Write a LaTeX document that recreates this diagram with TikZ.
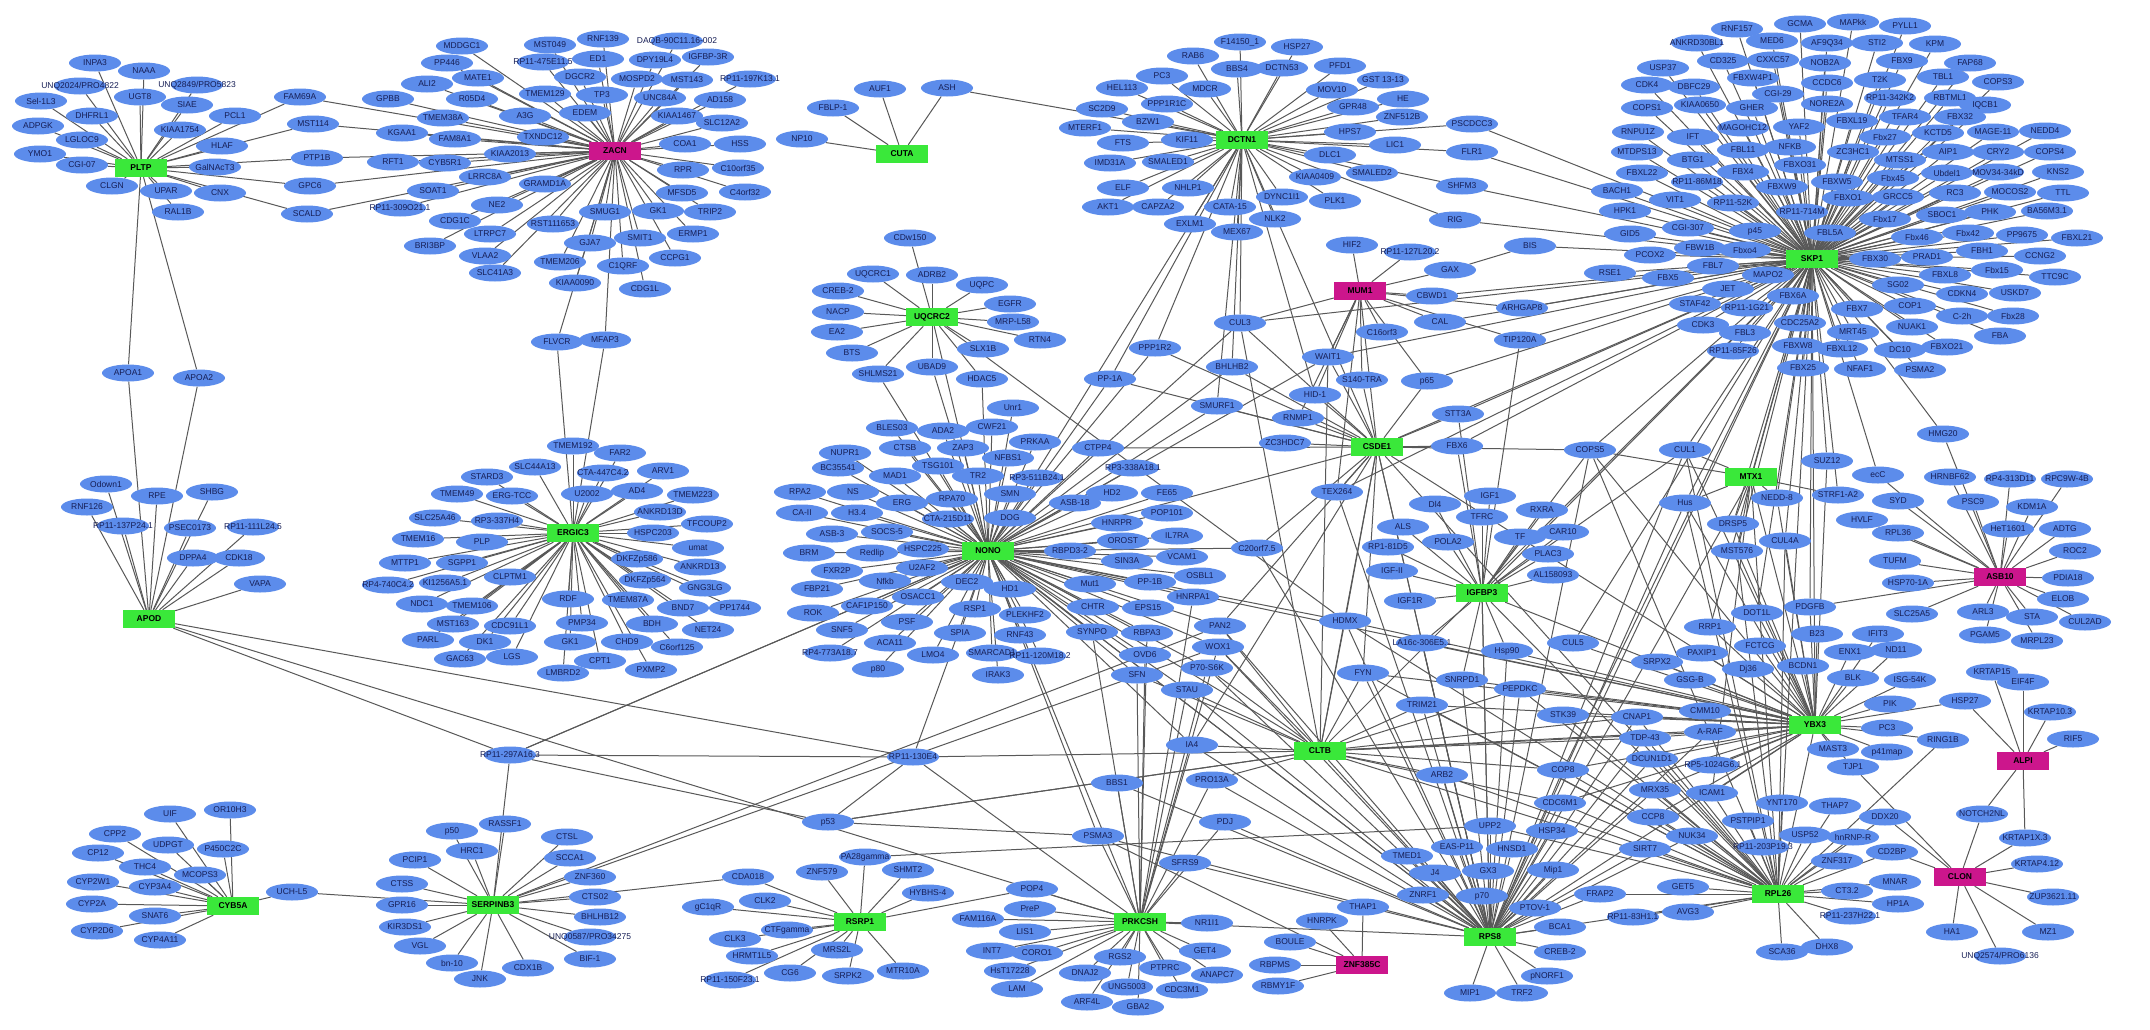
\documentclass[tikz,border=0pt]{standalone}
\usepackage{fontspec}
\setmainfont{Liberation Sans}
\usetikzlibrary{shapes.geometric}
\definecolor{nodeblue}{RGB}{92,140,235}
\definecolor{txtblue}{RGB}{22,30,85}
\definecolor{hubgreen}{RGB}{58,232,58}
\definecolor{hubmag}{RGB}{204,22,140}
\definecolor{edgegray}{RGB}{88,88,88}
\pgfdeclarelayer{bg}
\pgfsetlayers{bg,main}
\tikzset{
 bn/.style={ellipse, fill=nodeblue, minimum width=52pt, minimum height=17pt, inner sep=0pt, text=txtblue, font=\fontsize{8.5}{9}\selectfont},
 hubg/.style={rectangle, fill=hubgreen, minimum width=52pt, minimum height=18pt, inner sep=0pt, font=\bfseries\fontsize{8.5}{9}\selectfont},
 hubm/.style={hubg, fill=hubmag},
 ed/.style={draw=edgegray, line width=1pt}
}
\newcommand\starnodes[2]{\foreach \lab/\px/\py [count=\nn] in #2 {\node[bn] (#1\nn) at (\px,\py) {\makebox[0pt]{\lab}};}}
\newcommand\staredges[3]{\foreach \lab/\px/\py [count=\nn] in #3 {\draw[ed] (#1) -- (#2\nn);}}
\newcommand\mynodes[1]{\foreach \nid/\lab/\px/\py in {#1}{\node[bn] (\nid) at (\px,\py) {\makebox[0pt]{\lab}};}}
\newcommand\mylinks[2]{\foreach \nb in {#2}{\draw[ed] (#1) -- (\nb);}}
% satellite lists
\def\Lpl{INPA3/95/63, NAAA/144/71, {UNQ2024/PRO4822}/80/86, {UNQ2849/PRO5823}/197/85, Sel-1L3/41/101, UGT8/140/97, SIAE/187/105, DHFRL1/92/116, PCL1/235/116, ADPGK/38/126, KIAA1754/180/130, LGLOC9/82/140, HLAF/222/146, YMO1/40/154, CGI-07/82/165, GalNAcT3/215/167, CLGN/112/186, UPAR/166/191, CNX/220/193, RAL1B/178/212}
\def\Lza{MDDGC1/462/46, PP446/447/63, {RP11-475E11.5}/543/62, MATE1/478/78, ALI2/427/84, R05D4/472/99, GPBB/388/99, TMEM38A/443/118, KGAA1/402/133, FAM8A1/455/139, RFT1/393/162, CYB5R1/445/163, KIAA2013/510/154, LRRC8A/485/177, SOAT1/433/191, {RP11-309O21.1}/400/208, NE2/497/205, CDG1C/455/221, LTRPC7/490/234, BRI3BP/430/246, VLAA2/485/256, SLC41A3/495/273, MST049/550/45, RNF139/603/39, {DAQB-90C11.16-002}/677/41, ED1/598/59, DPY19L4/655/60, IGFBP-3R/708/57, DGCR2/580/77, MOSPD2/637/79, MST143/687/80, {RP11-197K13.1}/750/79, TMEM129/545/94, TP3/602/95, UNC84A/660/98, AD158/720/100, A3G/525/116, EDEM/585/113, KIAA1467/677/116, SLC12A2/722/123, TXNDC12/543/137, COA1/685/144, HSS/740/144, RPR/683/170, C10orf35/738/168, GRAMD1A/545/184, MFSD5/682/193, C4orf32/745/192, SMUG1/605/212, GK1/658/211, TRIP2/710/212, RST111653/553/224, ERMP1/693/234, GJA7/590/243, SMIT1/640/238, TMEM206/560/262, CCPG1/675/258, C1QRF/623/266, KIAA0090/575/283, CDG1L/645/289}
\def\Lcu{AUF1/880/89, FBLP-1/833/108, NP10/802/139}
\def\Ldc{F14150\_1/1240/42, HSP27/1297/47, RAB6/1193/56, BBS4/1237/69, DCTN53/1282/68, PFD1/1340/66, PC3/1162/76, {GST 13-13}/1383/80, MDCR/1205/89, MOV10/1332/90, HEL113/1122/88, HE/1403/99, PPP1R1C/1167/104, GPR48/1353/107, SC2D9/1102/109, ZNF512B/1402/117, BZW1/1148/122, HPS7/1350/132, MTERF1/1085/128, KIF11/1187/140, FTS/1123/143, LIC1/1395/145, DLC1/1330/155, IMD31A/1110/163, SMALED1/1168/162, SMALED2/1372/173, KIAA0409/1315/177, ELF/1123/188, NHLP1/1188/188, DYNC1I1/1282/197, PLK1/1335/201, AKT1/1108/207, CAPZA2/1158/207, CATA-15/1230/207, NLK2/1275/219, EXLM1/1190/224, MEX67/1237/232}
\def\Lmu{HIF2/1352/245, {RP11-127L20.2}/1410/252}
\def\Lsk{RNF157/1737/29, GCMA/1800/24, MAPkk/1853/22, PYLL1/1905/26, ANKRD30BL1/1697/43, MED6/1772/41, AF9Q34/1827/43, STI2/1877/43, KPM/1935/44, CD325/1723/61, CXXC57/1773/60, NOB2A/1825/63, FBX9/1902/61, FAP68/1970/63, USP37/1663/68, FBXW4P1/1753/78, CCDC6/1827/83, T2K/1880/80, TBL1/1943/77, COPS3/1998/82, CDK4/1647/85, DBFC29/1694/87, CGI-29/1778/94, {RP11-342K2}/1890/98, RBTML1/1950/98, IQCB1/1985/105, COPS1/1647/108, KIAA0650/1700/105, GHER/1752/108, NORE2A/1827/104, TFAR4/1905/117, FBX32/1960/117, RNPU1Z/1638/132, MAGOHC12/1743/128, YAF2/1799/127, FBXL19/1852/121, MAGE-11/1993/132, NEDD4/2045/131, IFT/1693/137, Fbx27/1885/137, KCTD5/1938/133, NFKB/1790/147, FBL11/1743/150, ZC3HC1/1853/152, AIP1/1948/152, CRY2/1998/152, COPS4/2050/152, MTDPS13/1637/152, BTG1/1693/160, MTSS1/1900/160, FBXO31/1800/165, FBXL22/1642/173, {RP11-86M18}/1697/182, FBX4/1743/172, FBXW5/1837/182, Fbx45/1893/178, Ubdel1/1947/173, MOV34-34kD/1998/172, KNS2/2058/172, FBXW9/1782/187, BACH1/1617/191, VIT1/1675/200, FBXO1/1848/198, GRCC5/1898/197, RC3/1955/193, MOCOS2/2010/192, TTL/2063/193, {RP11-52K}/1733/203, {RP11-714M}/1802/212, HPK1/1625/211, Fbx17/1885/219, SBOC1/1942/215, PHK/1990/212, BA56M3.1/2047/211, CGI-307/1688/228, p45/1755/231, FBL5A/1830/233, Fbx46/1917/237, Fbx42/1968/233, PP9675/2022/235, FBXL21/2077/238, GID5/1630/234, PCOX2/1650/255, FBW1B/1700/248, Fbxo4/1745/250, FBX30/1875/259, PRAD1/1927/257, FBH1/1982/251, CCNG2/2040/256, RSE1/1610/273, FBL7/1713/266, FBX5/1668/278, MAPO2/1768/275, FBXL8/1945/275, Fbx15/1997/270, TTC9C/2055/277, JET/1728/289, SG02/1898/285, CDKN4/1962/294, USKD7/2015/293, STAF42/1695/304, FBX6A/1793/296, {RP11-1G21}/1747/308, FBX7/1857/309, COP1/1910/306, C-2h/1962/316, Fbx28/2013/316, CDK3/1703/325, CDC25A2/1800/323, FBL3/1745/333, MRT45/1853/332, NUAK1/1912/327, FBA/2000/336, {RP11-85F26}/1733/351, FBXW8/1798/346, FBXL12/1842/349, DC10/1900/350, FBXO21/1947/347, FBX25/1803/368, NFAF1/1860/369, PSMA2/1920/370}
\def\Luq{CDw150/910/238, UQCRC1/873/274, ADRB2/932/275, UQPC/982/285, CREB-2/838/291, EGFR/1010/304, NACP/838/312, MRP-L58/1013/322, EA2/837/332, RTN4/1040/340, BTS/852/353, SLX1B/983/349}
\def\Ler{FAR2/620/453, SLC44A13/535/467, {CTA-447C4.2}/603/473, ARV1/663/471, U2002/587/494, AD4/637/491, TMEM223/693/495, ANKRD13D/660/512, TFCOUP2/707/524, HSPC203/653/533, umat/698/548, DKFZp586/637/559, ANKRD13/700/567, DKFZp564/645/580, GNG3LG/705/588, RDF/568/599, TMEM87A/628/600, BND7/683/608, PP1744/735/608, PMP34/582/623, BDH/652/624, NET24/708/630, GK1/570/642, CHD9/627/642, C6orf125/677/647, CPT1/600/661, LMBRD2/563/673, PXMP2/651/670, STARD3/487/477, ERG-TCC/512/496, TMEM49/457/494, SLC25A46/435/518, {RP3-337H4}/497/521, TMEM16/418/539, PLP/482/542, MTTP1/405/563, SGPP1/462/563, CLPTM1/510/577, {RP4-740C4.2}/388/585, KI1256A5.1/445/583, NDC1/422/604, TMEM106/472/606, MST163/453/624, CDC91L1/510/626, PARL/428/640, DK1/485/642, GAC63/460/659, LGS/512/657}
\def\Lap{Odown1/106/484, RNF126/87/507, RPE/157/496, SHBG/212/492, {RP11-137P24.1}/123/526, PSEC0173/190/528, {RP11-111L24.5}/253/527, DPPA4/193/558, CDK18/239/558, VAPA/260/584}
\def\Lno{Unr1/1013/408, BLES03/892/428, ADA2/943/431, CWF21/992/427, PRKAA/1035/442, NUPR1/845/453, CTSB/905/448, ZAP3/963/448, NFBS1/1008/458, BC35541/838/468, TSG101/938/466, MAD1/895/476, TR2/978/476, {RP3-511B24.1}/1037/478, RPA2/800/492, NS/853/492, RPA70/952/499, ERG/902/503, SMN/1010/494, CA-II/802/513, H3.4/857/513, {CTA-215D11}/948/519, DOG/1010/518, ASB-3/832/534, SOCS-5/887/532, BRM/809/553, Redlip/872/553, HSPC225/923/549, FXR2P/837/571, U2AF2/922/568, FBP21/817/589, Nfkb/885/581, DEC2/967/582, HD1/1010/589, OSACC1/918/597, ROK/813/613, CAF1P150/867/606, RSP1/975/609, PLEKHF2/1025/615, SNF5/842/630, PSF/907/622, SPIA/960/633, RNF43/1020/635, {RP4-773A18.7}/830/653, ACA11/890/643, LMO4/933/655, SMARCAD1/992/653, p80/878/669, IRAK3/998/675, {RP11-120M18.2}/1040/656}
\def\Lpk{PreP/1030/909, FAM116A/978/919, LIS1/1025/932, INT7/992/951, CORO1/1037/953, HsT17228/1010/971, LAM/1017/989, NR1I1/1207/923, GET4/1205/951, RGS2/1120/957, DNAJ2/1085/973, PTPRC/1165/968, ANAPC7/1217/975, UNG5003/1127/987, CDC3M1/1182/990, ARF4L/1087/1002, GBA2/1138/1007}
\def\Lzn{THAP1/1363/907, HNRPK/1322/921, BOULE/1290/942, RBPMS/1275/965, RBMY1F/1278/986}
\def\Lrs{J4/1435/873, ZNRF1/1423/895, p70/1482/896, PTOV-1/1535/908, BCA1/1560/927, CREB-2/1560/952, pNORF1/1547/976, MIP1/1470/993, TRF2/1522/993, GX3/1488/871, Mip1/1553/870, TMED1/1407/856, {EAS-P11}/1457/847, HNSD1/1512/849, HSP34/1552/831}
\def\Lrl{GET5/1683/887, AVG3/1688/912, {RP11-83H1.1}/1633/917, CT3.2/1847/891, MNAR/1895/882, HP1A/1898/904, {RP11-237H22.1}/1850/916, SCA36/1782/952, DHX8/1827/947, ZNF317/1837/861, hnRNP-R/1853/837, USP52/1805/835, {RP11-203P19.3}/1763/847, PSTPIP1/1748/821, YNT170/1782/803, THAP7/1835/806}
\def\Lyb{PIK/1890/704, PC3/1887/728, MAST3/1833/749, p41map/1887/752, {RP5-1024G6.1}/1713/765, B23/1817/634, ENX1/1850/652, IFIT3/1878/634, ND11/1896/650, BLK/1853/678, ISG-54K/1910/680, FCTCG/1760/646, PAXIP1/1702/653, SRPX2/1657/662, Dj36/1748/669, BCDN1/1803/666, GSG-B/1690/680}
\def\Lal{KRTAP10.3/2050/712, RIF5/2073/739, KRTAP15/1992/672, EIF4F/2023/682}
\def\Lcl{KRTAP4.12/2037/864, ZUP3621.11/2053/897, HA1/1952/932, MZ1/2048/932, {UNQ2574/PRO6136}/2000/956}
\def\Las{HRNBF62/1950/477, {RP4-313D11}/2010/479, {RPC9W-4B}/2067/479, SYD/1898/501, PSC9/1973/502, KDM1A/2032/507, HVLF/1862/520, RPL36/1898/533, HeT1601/2008/529, ADTG/2065/529, TUFM/1895/561, ROC2/2075/551, HSP70-1A/1908/583, PDIA18/2068/578, ELOB/2063/599, SLC25A5/1912/614, ARL3/1983/612, STA/2032/617, CUL2AD/2085/622, PGAM5/1985/635, MRPL23/2037/641}
\def\Lig{IGF1/1490/496, Dl4/1435/504, TFRC/1482/517, RXRA/1542/510, TF/1520/537, CAR10/1563/532, ALS/1403/527, POLA2/1448/542, {RP1-81D5}/1388/547, PLAC3/1548/554, IGF-II/1392/571, AL158093/1553/575}
\def\Lrp{ZNF579/822/872, SHMT2/908/870, HYBHS-4/928/893, CLK2/765/901, gC1qR/708/907, CTFgamma/787/930, CLK3/735/939, MRS2L/837/950, HRMT1L5/752/956, CG6/790/973, SRPK2/848/976, MTR10A/903/971, {RP11-150F23.1}/730/980}
\def\Lse{p50/452/831, RASSF1/505/824, HRC1/472/851, PCIP1/415/860, CTSS/402/884, GPR16/402/905, KIR3DS1/405/927, VGL/420/946, bn-10/452/963, JNK/480/979, CDX1B/528/968, CTSL/567/837, SCCA1/570/858, ZNF360/590/877, CTS02/595/897, BHLHB12/600/917, {UNQ0587/PRO34275}/590/937, BIF-1/590/959}
\def\Lcy{UIF/170/814, OR10H3/230/810, CPP2/115/834, UDPGT/168/845, P450C2C/223/849, CP12/98/853, THC4/145/867, MCOPS3/200/875, CYP2W1/93/882, CYP3A4/155/887, CYP2A/92/904, SNAT6/155/916, CYP2D6/97/931, CYP4A11/160/940}
\begin{document}
\begin{tikzpicture}[x=1pt,y=-1pt]
\begin{pgfonlayer}{bg}
\fill[white] (0,0) rectangle (2150,1029);
\end{pgfonlayer}
\useasboundingbox (0,0) rectangle (2150,1029);
% hubs
\node[hubg] (PLTP) at (141,168) {PLTP};
\node[hubm] (ZACN) at (615,151) {ZACN};
\node[hubg] (CUTA) at (902,154) {CUTA};
\node[hubg] (DCTN1) at (1242,140) {DCTN1};
\node[hubg] (SKP1) at (1812,259) {SKP1};
\node[hubg] (UQCRC2) at (932,317) {UQCRC2};
\node[hubm] (MUM1) at (1360,291) {MUM1};
\node[hubg] (ERGIC3) at (573,533) {ERGIC3};
\node[hubg] (NONO) at (988,551) {NONO};
\node[hubg] (CSDE1) at (1377,447) {CSDE1};
\node[hubg] (MTX1) at (1751,477) {MTX1};
\node[hubm] (ASB10) at (2000,577) {ASB10};
\node[hubg] (IGFBP3) at (1482,593) {IGFBP3};
\node[hubg] (APOD) at (149,619) {APOD};
\node[hubg] (YBX3) at (1815,725) {YBX3};
\node[hubm] (ALPI) at (2023,761) {ALPI};
\node[hubg] (CLTB) at (1320,751) {CLTB};
\node[hubm] (CLON) at (1960,877) {CLON};
\node[hubg] (RPL26) at (1778,894) {RPL26};
\node[hubg] (RPS8) at (1490,937) {RPS8};
\node[hubg] (PRKCSH) at (1140,922) {PRKCSH};
\node[hubm] (ZNF385C) at (1362,965) {ZNF385C};
\node[hubg] (RSRP1) at (860,922) {RSRP1};
\node[hubg] (SERPINB3) at (493,905) {SERPINB3};
\node[hubg] (CYB5A) at (233,906) {CYB5A};
% shared nodes
\mynodes{FAM69A/FAM69A/300/97, MST114/MST114/313/124, PTP1B/PTP1B/317/158, GPC6/GPC6/310/186, SCALD/SCALD/307/214, APOA1/APOA1/128/373, APOA2/APOA2/199/378, FLVCR/FLVCR/557/342, MFAP3/MFAP3/605/340, TMEM192/TMEM192/573/446, ASH/ASH/947/88, PSCD/PSCDCC3/1472/124, FLR1/FLR1/1472/152, SHFM3/SHFM3/1462/186, RIG/RIG/1455/220, BIS/BIS/1530/246, GAX/GAX/1450/270, CBWD1/CBWD1/1432/296, CAL/CAL/1440/322, C16/C16orf3/1382/332, ARHG/ARHGAP8/1522/308, TIP120A/TIP120A/1520/340, CUL3/CUL3/1240/323, HDAC5/HDAC5/982/379, UBAD9/UBAD9/932/367, SHLM/SHLMS21/878/374, PPPRQ/PPP1R2/1155/348, WAIT1/WAIT1/1328/357, BHLH/BHLHB2/1232/367, PP1A/PP-1A/1110/379, S140/S140-TRA/1362/380, p65/p65/1427/381, HID1/HID-1/1315/395, SMURF1/SMURF1/1217/406, RNMP1/RNMP1/1298/418, STT3A/STT3A/1458/414, CTPP4/CTPP4/1098/448, ZC3/ZC3HDC7/1285/443, FBX6/FBX6/1457/446, COPS5/COPS5/1590/450, CUL1/CUL1/1685/450, SUZ12/SUZ12/1827/461, HMG20/HMG20/1943/434, ecC/ecC/1878/475, Hus/Hus/1685/503, NEDD8/NEDD-8/1777/498, STRF/STRF1-A2/1838/495, DRSP5/DRSP5/1733/524, CUL4A/CUL4A/1785/541, MST576/MST576/1737/551, TEX264/TEX264/1337/492, C20/C20orf7.5/1257/548, HDMX/HDMX/1345/621, FYN/FYN/1363/673, SNRPD1/SNRPD1/1462/680, PEPDKC/PEPDKC/1520/689, TRIM21/TRIM21/1422/705, STK39/STK39/1563/715, PDGFB/PDGFB/1810/607, DOT1L/DOT1L/1757/613, RRP1/RRP1/1710/627, RP3338/RP3-338A18.1/1133/468, HD2/HD2/1112/493, FE65/FE65/1167/493, ASB18/ASB-18/1075/503, POP101/POP101/1167/513, HNRPR/HNRPR/1117/523, IL7RA/IL7RA/1177/536, OROST/OROST/1123/541, RBPD3/RBPD3-2/1070/551, VCAM1/VCAM1/1182/557, SIN3A/SIN3A/1127/561, Mut1/Mut1/1090/584, PP1B/PP-1B/1150/582, OSBL1/OSBL1/1200/576, CHTR/CHTR/1093/607, EPS15/EPS15/1148/608, HNRPA1/HNRPA1/1193/597, SYNPO/SYNPO/1092/632, RBPA3/RBPA3/1147/633, PAN2/PAN2/1220/626, OVD6/OVD6/1145/655, WOX1/WOX1/1218/647, SFN/SFN/1137/675, P70S6K/P70-S6K/1207/668, STAU/STAU/1187/690, IA4/IA4/1192/745, BBS1/BBS1/1117/783, PRO13A/PRO13A/1212/780, PDJ/PDJ/1225/822, PSMA3/PSMA3/1098/836, SFRS9/SFRS9/1185/863, p53/p53/828/822, RP130/RP11-130E4/913/757, RP297/RP11-297A16.3/510/755, PA28/PA28gamma/865/857, CDA018/CDA018/748/877, UCHL5/UCH-L5/292/892, ARB2/ARB2/1442/775, COP8/COP8/1563/770, CDC6M1/CDC6M1/1560/803, UPP2/UPP2/1490/826, IGF1R/IGF1R/1410/601, Hsp90/Hsp90/1507/651, LA16/LA16c-306E5.1/1422/643, CUL5/CUL5/1573/643, CNAP1/CNAP1/1637/717, CMM10/CMM10/1705/711, TDP43/TDP-43/1645/738, ARAF/A-RAF/1710/732, DCUN/DCUN1D1/1652/759, MRX35/MRX35/1655/790, ICAM1/ICAM1/1712/793, CCP8/CCP8/1653/817, NUK34/NUK34/1692/836, SIRT7/SIRT7/1645/849, FRAP2/FRAP2/1600/894, RING1B/RING1B/1943/740, HSP27b/HSP27/1965/701, NOTCH/NOTCH2NL/1982/814, KRTAP1X3/KRTAP1X.3/2025/838, DDX20/DDX20/1885/817, CD2BP/CD2BP/1892/852, TJP1/TJP1/1853/767, POP4/POP4/1032/889}
% satellites
\starnodes{pl}{\Lpl}
\starnodes{za}{\Lza}
\starnodes{cu}{\Lcu}
\starnodes{dc}{\Ldc}
\starnodes{mu}{\Lmu}
\starnodes{sk}{\Lsk}
\starnodes{uq}{\Luq}
\starnodes{er}{\Ler}
\starnodes{ap}{\Lap}
\starnodes{no}{\Lno}
\starnodes{pk}{\Lpk}
\starnodes{zn}{\Lzn}
\starnodes{rs}{\Lrs}
\starnodes{rl}{\Lrl}
\starnodes{yb}{\Lyb}
\starnodes{al}{\Lal}
\starnodes{cl}{\Lcl}
\starnodes{as}{\Las}
\starnodes{ig}{\Lig}
\starnodes{rp}{\Lrp}
\starnodes{se}{\Lse}
\starnodes{cy}{\Lcy}
\begin{pgfonlayer}{bg}
\staredges{PLTP}{pl}{\Lpl}
\staredges{ZACN}{za}{\Lza}
\staredges{CUTA}{cu}{\Lcu}
\staredges{DCTN1}{dc}{\Ldc}
\staredges{MUM1}{mu}{\Lmu}
\staredges{SKP1}{sk}{\Lsk}
\staredges{UQCRC2}{uq}{\Luq}
\staredges{ERGIC3}{er}{\Ler}
\staredges{APOD}{ap}{\Lap}
\staredges{NONO}{no}{\Lno}
\staredges{PRKCSH}{pk}{\Lpk}
\staredges{ZNF385C}{zn}{\Lzn}
\staredges{RPS8}{rs}{\Lrs}
\staredges{RPL26}{rl}{\Lrl}
\staredges{YBX3}{yb}{\Lyb}
\staredges{ALPI}{al}{\Lal}
\staredges{CLON}{cl}{\Lcl}
\staredges{ASB10}{as}{\Las}
\staredges{IGFBP3}{ig}{\Lig}
\staredges{RSRP1}{rp}{\Lrp}
\staredges{SERPINB3}{se}{\Lse}
\staredges{CYB5A}{cy}{\Lcy}
\mylinks{PLTP}{FAM69A,MST114,PTP1B,GPC6,SCALD,APOA1,APOA2}
\mylinks{ZACN}{FAM69A,MST114,PTP1B,GPC6,SCALD,FLVCR,MFAP3}
\mylinks{APOD}{APOA1,APOA2,RP297,RP130,PRKCSH}
\mylinks{ERGIC3}{FLVCR,MFAP3,TMEM192}
\mylinks{CUTA}{ASH}
\mylinks{ASH}{DCTN1}
\mylinks{DCTN1}{PSCD,FLR1,SHFM3,RIG,CUL3,NONO,CSDE1,PP1A,SMURF1,BHLH,HID1,PPPRQ}
\mylinks{SKP1}{PSCD,FLR1,SHFM3,RIG,BIS,ARHG,TIP120A,CAL,CBWD1,COPS5,CUL1,SUZ12,HMG20,ecC,Hus,NEDD8,STRF,CUL4A,DRSP5,MST576,FBX6,STT3A,p65,IGFBP3,YBX3,RPL26,RPS8,MTX1,CUL3,WAIT1,CSDE1,TEX264,PDGFB,DOT1L,CUL5,COP8,CLTB,RRP1}
\mylinks{GAX}{BIS}
\mylinks{MUM1}{GAX,CBWD1,CAL,C16,ARHG,TIP120A,CSDE1,S140,HID1,p65,WAIT1,RNMP1,CUL3,TEX264}
\mylinks{UQCRC2}{HDAC5,UBAD9,SHLM,NONO,HDMX}
\mylinks{NONO}{HDAC5,UBAD9,SHLM,CTPP4,PP1A,PPPRQ,RP3338,HD2,FE65,ASB18,POP101,HNRPR,IL7RA,OROST,RBPD3,VCAM1,SIN3A,Mut1,PP1B,OSBL1,CHTR,EPS15,HNRPA1,SYNPO,RBPA3,PAN2,OVD6,WOX1,SFN,P70S6K,STAU,RP297,RP130,CLTB,CSDE1,CUL3,BHLH,SMURF1,IA4,PSMA3,YBX3,RPS8,HDMX,C20,WAIT1}
\mylinks{CSDE1}{WAIT1,S140,p65,HID1,RNMP1,ZC3,STT3A,FBX6,TEX264,C20,HDMX,CUL3,BHLH,SMURF1,PP1A,CLTB,RPS8,RPL26,YBX3,FYN,PAN2,IA4,COPS5,PPPRQ,CTPP4}
\mylinks{IGFBP3}{IGF1R,Hsp90,LA16,SNRPD1,FBX6,STT3A,TIP120A,CUL1,RPS8,YBX3,RPL26,COPS5}
\mylinks{MTX1}{Hus,DRSP5,MST576,STRF,NEDD8,YBX3,RPS8,RPL26,CUL1,COPS5,ICAM1}
\mylinks{YBX3}{CNAP1,CMM10,TDP43,ARAF,DCUN,MRX35,ICAM1,CCP8,PDGFB,DOT1L,RRP1,RING1B,HSP27b,TJP1,COPS5,CUL1,Hus,CLTB,RPS8,FYN,HDMX,SNRPD1,Hsp90,LA16,PEPDKC,TRIM21,STK39,COP8,CDC6M1,RPL26,MST576,DRSP5,CUL4A,SUZ12,NEDD8,CUL5}
\mylinks{RPL26}{NUK34,SIRT7,FRAP2,ICAM1,MRX35,CCP8,CNAP1,TDP43,DCUN,RING1B,CLTB,RPS8,PEPDKC,TRIM21,STK39,CUL1,COPS5,HDMX,FYN,ARB2,CDC6M1,UPP2,COP8,CUL4A,MST576,DDX20,CD2BP,Hus}
\mylinks{RPS8}{UPP2,ARB2,CLTB,IA4,PDJ,PRO13A,BBS1,PSMA3,SFRS9,STAU,P70S6K,WOX1,PAN2,HDMX,FYN,SNRPD1,NONO,CSDE1,IGFBP3,COPS5,CUL1,Hus,TRIM21,PEPDKC,COP8,CDC6M1,PRKCSH,CNAP1,TDP43,ARAF,DCUN,MRX35,FRAP2,SIRT7,NUK34,Hsp90,LA16,C20,TEX264}
\mylinks{CLTB}{IA4,PRO13A,HDMX,FYN,STAU,ARB2,COP8,CDC6M1,TRIM21,PEPDKC,CUL3,WAIT1,SFN,WOX1,P70S6K,PAN2,RP130,p53,CNAP1,TDP43,ARAF}
\mylinks{PRKCSH}{POP4,PSMA3,SFRS9,BBS1,PRO13A,IA4,PDJ,STAU,SFN,P70S6K,NONO,RP130,WOX1,OVD6,RBPA3,SYNPO,HNRPA1}
\mylinks{RSRP1}{POP4,PA28,CDA018}
\mylinks{PA28}{UPP2}
\mylinks{SERPINB3}{UCHL5,RP297,CDA018,PAN2,WOX1}
\mylinks{CYB5A}{UCHL5}
\mylinks{RP297}{RP130,p53,NONO}
\mylinks{p53}{RP130,PSMA3,CLTB}
\mylinks{ZNF385C}{PSMA3}
\mylinks{ALPI}{HSP27b,NOTCH,KRTAP1X3}
\mylinks{CLON}{NOTCH,KRTAP1X3,DDX20,CD2BP,TJP1}
\mylinks{ASB10}{HMG20,ecC,PDGFB}
\end{pgfonlayer}
\end{tikzpicture}
\end{document}
